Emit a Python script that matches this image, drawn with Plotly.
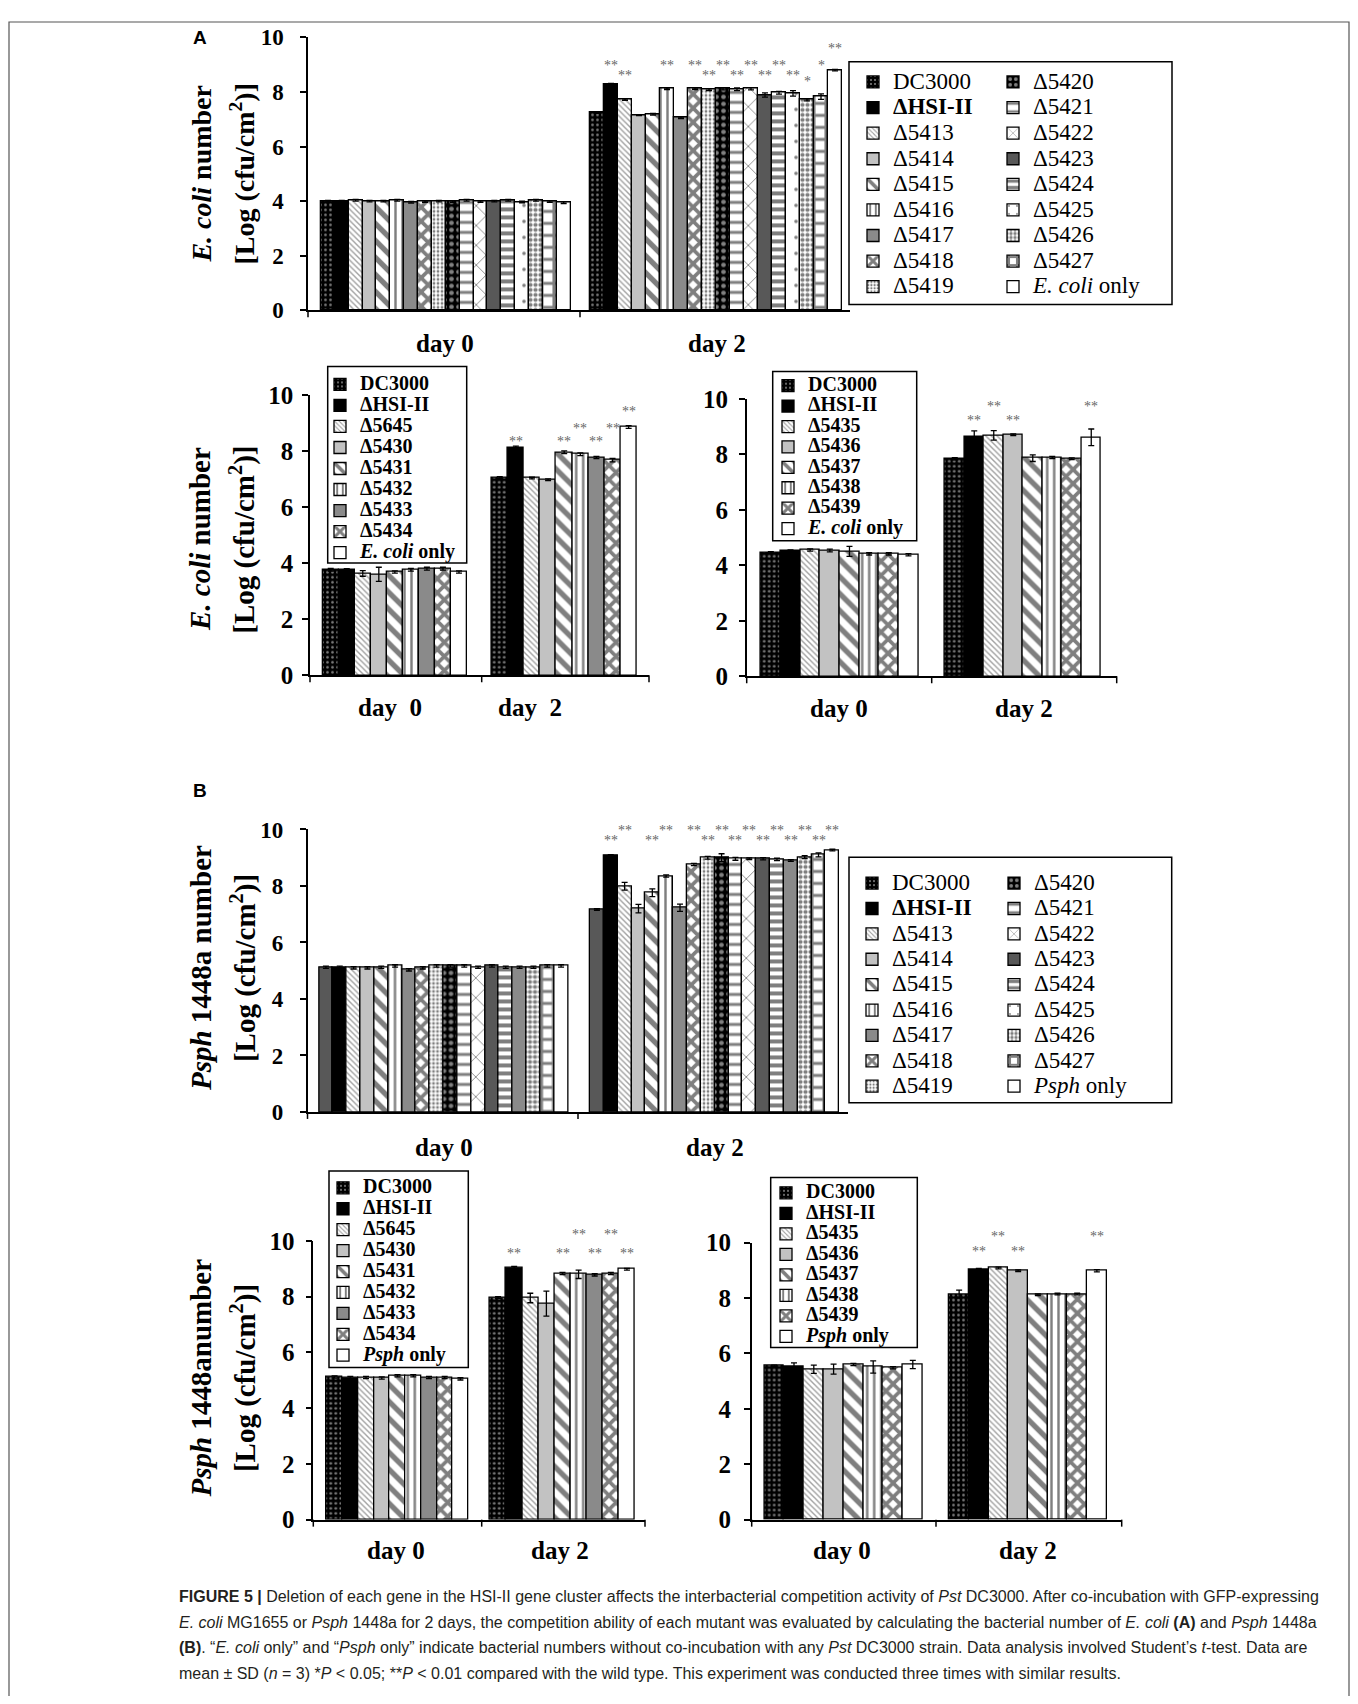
import plotly.graph_objects as go

# The page is shown with the browser's default 8 px body margin, so the figure is
# drawn 16 px smaller; layout positions below are given in window pixels.
WIN_W, WIN_H = 1358, 1704
OFF = 8
W, H = WIN_W - 2 * OFF, WIN_H - 2 * OFF
# measured vertical calibration of the photographed page (rendered = A + B * design)
CAL_A, CAL_B = 11.4, 0.9847

# ---------------- data ----------------
days = ["day 0", "day 2"]

strains_a_top = ["DC3000", "ΔHSI-II", "Δ5413", "Δ5414", "Δ5415", "Δ5416", "Δ5417", "Δ5418", "Δ5419",
                 "Δ5420", "Δ5421", "Δ5422", "Δ5423", "Δ5424", "Δ5425", "Δ5426", "Δ5427", "E. coli only"]
strains_b_top = ["DC3000", "ΔHSI-II", "Δ5413", "Δ5414", "Δ5415", "Δ5416", "Δ5417", "Δ5418", "Δ5419",
                 "Δ5420", "Δ5421", "Δ5422", "Δ5423", "Δ5424", "Δ5425", "Δ5426", "Δ5427", "Psph only"]
strains_a_left = ["DC3000", "ΔHSI-II", "Δ5645", "Δ5430", "Δ5431", "Δ5432", "Δ5433", "Δ5434", "E. coli only"]
strains_a_right = ["DC3000", "ΔHSI-II", "Δ5435", "Δ5436", "Δ5437", "Δ5438", "Δ5439", "E. coli only"]
strains_b_left = ["DC3000", "ΔHSI-II", "Δ5645", "Δ5430", "Δ5431", "Δ5432", "Δ5433", "Δ5434", "Psph only"]
strains_b_right = ["DC3000", "ΔHSI-II", "Δ5435", "Δ5436", "Δ5437", "Δ5438", "Δ5439", "Psph only"]

# Panel A (E. coli), top
a1_day0 = [4.0, 4.0, 4.03, 4.0, 4.0, 4.03, 3.96, 3.98, 4.0, 3.98, 4.03, 3.98, 4.0, 4.03, 3.97, 4.03, 3.98, 3.94]
a1_sd0 = [0.03] * 18
a1_day2 = [7.25, 8.28, 7.72, 7.15, 7.18, 8.12, 7.05, 8.12, 8.08, 8.12, 8.1, 8.12, 7.89, 7.97, 7.95, 7.71, 7.83, 8.8]
a1_sd2 = [0.03, 0.03, 0.03, 0.02, 0.03, 0.03, 0.03, 0.03, 0.03, 0.04, 0.05, 0.04, 0.08, 0.05, 0.1, 0.04, 0.1, 0.03]
a1_stars = ["", "**", "**", "", "", "**", "", "**", "**", "**", "**", "**", "**", "**", "**", "*", "*", "**"]
a1_star_rows = ["", "H", "L", "", "", "H", "", "H", "L", "H", "L", "H", "L", "H", "L", "S", "H", "T"]

# Panel A, bottom left
a2_day0 = [3.76, 3.76, 3.63, 3.6, 3.68, 3.76, 3.8, 3.8, 3.68]
a2_sd0 = [0.05, 0.04, 0.1, 0.25, 0.04, 0.05, 0.05, 0.05, 0.04]
a2_day2 = [7.05, 8.12, 7.03, 6.97, 7.95, 7.88, 7.76, 7.67, 8.85]
a2_sd2 = [0.03, 0.05, 0.03, 0.03, 0.05, 0.05, 0.04, 0.06, 0.05]
a2_stars = ["", "**", "", "", "**", "**", "**", "**", "**"]
a2_star_rows = ["", "L", "", "", "L", "H", "L", "H", "T"]

# Panel A, bottom right
a3_day0 = [4.46, 4.52, 4.55, 4.53, 4.5, 4.41, 4.41, 4.38]
a3_sd0 = [0.03, 0.03, 0.04, 0.05, 0.18, 0.04, 0.04, 0.04]
a3_day2 = [7.84, 8.64, 8.68, 8.7, 7.86, 7.88, 7.84, 8.61]
a3_sd2 = [0.04, 0.2, 0.17, 0.03, 0.12, 0.04, 0.03, 0.3]
a3_stars = ["", "**", "**", "**", "", "", "", "**"]
a3_star_rows = ["", "L", "H", "L", "", "", "", "H"]

# Panel B (Psph 1448a), top
b1_day0 = [5.12, 5.12, 5.1, 5.1, 5.12, 5.17, 5.03, 5.1, 5.17, 5.17, 5.17, 5.12, 5.17, 5.12, 5.12, 5.12, 5.17, 5.17]
b1_sd0 = [0.04] * 18
b1_day2 = [7.17, 9.08, 7.99, 7.2, 7.76, 8.35, 7.23, 8.76, 9.0, 9.0, 8.96, 8.96, 8.96, 8.94, 8.9, 9.02, 9.1, 9.27]
b1_sd2 = [0.03, 0.03, 0.14, 0.15, 0.14, 0.04, 0.13, 0.04, 0.05, 0.14, 0.05, 0.03, 0.04, 0.04, 0.03, 0.05, 0.07, 0.03]
b1_stars = ["", "**", "**", "", "**", "**", "", "**", "**", "**", "**", "**", "**", "**", "**", "**", "**", "**"]
b1_star_rows = ["", "L", "H", "", "L", "H", "", "H", "L", "H", "L", "H", "L", "H", "L", "H", "L", "H"]

# Panel B, bottom left
b2_day0 = [5.12, 5.1, 5.1, 5.08, 5.16, 5.16, 5.1, 5.1, 5.05]
b2_sd0 = [0.04] * 9
b2_day2 = [7.97, 9.04, 7.95, 7.75, 8.83, 8.8, 8.78, 8.83, 8.98]
b2_sd2 = [0.03, 0.04, 0.17, 0.45, 0.04, 0.15, 0.04, 0.04, 0.03]
b2_stars = ["", "**", "", "", "**", "**", "**", "**", "**"]
b2_star_rows = ["", "L", "", "", "L", "H", "L", "H", "L"]

# Panel B, bottom right
b3_day0 = [5.55, 5.51, 5.43, 5.43, 5.6, 5.51, 5.48, 5.6]
b3_sd0 = [0.03, 0.15, 0.15, 0.18, 0.04, 0.22, 0.04, 0.15]
b3_day2 = [8.14, 9.04, 9.08, 8.98, 8.12, 8.14, 8.14, 8.98]
b3_sd2 = [0.14, 0.03, 0.03, 0.03, 0.03, 0.03, 0.03, 0.04]
b3_stars = ["", "**", "**", "**", "", "", "", "**"]
b3_star_rows = ["", "L", "H", "L", "", "", "", "H"]

caption_lines = [
    "<b>FIGURE 5 |</b> Deletion of each gene in the HSI-II gene cluster affects the interbacterial competition "
    "activity of <i>Pst</i> DC3000. After co-incubation with GFP-expressing",
    "<i>E. coli</i> MG1655 or <i>Psph</i> 1448a for 2 days, the competition ability of each mutant was evaluated "
    "by calculating the bacterial number of <i>E. coli</i> <b>(A)</b> and <i>Psph</i> 1448a",
    "<b>(B)</b>. “<i>E. coli</i> only” and “<i>Psph</i> only” indicate bacterial numbers without co-incubation "
    "with any <i>Pst</i> DC3000 strain. Data analysis involved Student’s <i>t</i>-test. Data are",
    "mean ± SD (<i>n</i> = 3) *<i>P</i> &lt; 0.05; **<i>P</i> &lt; 0.01 compared with the wild type. "
    "This experiment was conducted three times with similar results.",
]

# ---------------- styles ----------------
SERIF = "Liberation Serif, Times New Roman, serif"
SANS = "Liberation Sans, Arial, sans-serif"


def pat(shape, fg, bg, size, sol):
    return dict(color=bg, pattern=dict(shape=shape, fgcolor=fg, bgcolor=bg, size=size, solidity=sol))


STYLES = {
    "dots_dark": pat(".", "white", "black", 5, 0.22),
    "black": dict(color="black"),
    "fine_diag": pat("\\", "#444444", "white", 4, 0.35),
    "lgray": dict(color="#c2c2c2"),
    "wide_diag": pat("\\", "black", "white", 12, 0.45),
    "vert": pat("|", "black", "white", 7, 0.35),
    "mgray": dict(color="#8a8a8a"),
    "diamond": pat("x", "black", "white", 10, 0.6),
    "fine_dots": pat(".", "black", "white", 4, 0.4),
    "dots_big_dark": pat(".", "white", "black", 7, 0.35),
    "hstripe": pat("-", "black", "white", 10, 0.3),
    "xhatch": pat("x", "black", "white", 14, 0.12),
    "dgray": dict(color="#585858"),
    "hstripe_thick": pat("-", "black", "white", 8, 0.5),
    "sparse_dot": pat(".", "black", "white", 16, 0.04),
    "checker_small": pat(".", "black", "white", 5, 0.55),
    "checker_big": pat("+", "black", "white", 12, 0.45),
    "white": dict(color="white"),
}
style_top = ["dots_dark", "black", "fine_diag", "lgray", "wide_diag", "vert", "mgray", "diamond", "fine_dots",
             "dots_big_dark", "hstripe", "xhatch", "dgray", "hstripe_thick", "sparse_dot", "checker_small",
             "checker_big", "white"]
style_left = ["dots_dark", "black", "fine_diag", "lgray", "wide_diag", "vert", "mgray", "diamond", "white"]
style_right = ["dots_dark", "black", "fine_diag", "lgray", "wide_diag", "vert", "diamond", "white"]

PANELS = [
    dict(strains=strains_a_top, day0=a1_day0, sd0=a1_sd0, day2=a1_day2, sd2=a1_sd2,
         stars=a1_stars, rows=a1_star_rows, levels=dict(H=9.07, L=8.71, S=8.5, T=9.72),
         styles=style_top, override={},
         ylo=308.7, yhi=35.7, dom0=(308, 580), bars0=(321, 570.6), dom2=(580, 850), bars2=(590, 842),
         right_tick=False, tickfs=23, standoff=12,
         labels=[(445, 341.7), (716.6, 341.7)], labfs=25, dbl=False,
         ytitle=["<i>E. coli</i> number", "[Log (cfu/cm<sup>2</sup>)]"], ytx=[202, 243], yty=172, ytfs=28,
         legcols=[(0, 9, 853), (9, 18, 993)], legfirst=80, legsp=25.2, legtext=23, legbold=False,
         box=(849, 60, 1172, 303)),
    dict(strains=strains_a_left, day0=a2_day0, sd0=a2_sd0, day2=a2_day2, sd2=a2_sd2,
         stars=a2_stars, rows=a2_star_rows, levels=dict(L=8.43, H=8.9, T=9.52),
         styles=style_left, override={},
         ylo=674, yhi=393.3, dom0=(310, 481.7), bars0=(322.7, 467), dom2=(481.7, 649), bars2=(491.7, 636.7),
         right_tick=True, tickfs=25, standoff=4,
         labels=[(390, 706), (530, 706)], labfs=25, dbl=True,
         ytitle=["<i>E. coli</i> number", "[Log (cfu/cm<sup>2</sup>)]"], ytx=[200.7, 242.3], yty=538, ytfs=29,
         legcols=[(0, 9, 320)], legfirst=382.7, legsp=20.7, legtext=20, legbold=True,
         box=(327.7, 365, 466.7, 561.7)),
    dict(strains=strains_a_right, day0=a3_day0, sd0=a3_sd0, day2=a3_day2, sd2=a3_sd2,
         stars=a3_stars, rows=a3_star_rows, levels=dict(L=9.33, H=9.82),
         styles=style_right, override={},
         ylo=675, yhi=397.3, dom0=(746.7, 931.7), bars0=(761, 918.3), dom2=(931.7, 1116.7), bars2=(945, 1101),
         right_tick=True, tickfs=25, standoff=6,
         labels=[(839, 707), (1024, 707)], labfs=25, dbl=False,
         ytitle=None,
         legcols=[(0, 8, 768)], legfirst=384, legsp=20.1, legtext=20, legbold=True,
         box=(772.7, 370, 916.7, 539.3)),
    dict(strains=strains_b_top, day0=b1_day0, sd0=b1_sd0, day2=b1_day2, sd2=b1_sd2,
         stars=b1_stars, rows=b1_star_rows, levels=dict(H=10.06, L=9.72),
         styles=style_top, override={0: "dgray", 14: "mgray"},
         ylo=1111, yhi=828.3, dom0=(307.5, 578), bars0=(319, 568), dom2=(578, 848), bars2=(590, 839.3),
         right_tick=False, tickfs=23, standoff=12,
         labels=[(444, 1146.7), (715, 1146.7)], labfs=25, dbl=False,
         ytitle=["<i>Psph</i> 1448a number", "[Log (cfu/cm<sup>2</sup>)]"], ytx=[201, 243], yty=967, ytfs=29,
         legcols=[(0, 9, 852), (9, 18, 994)], legfirst=881.7, legsp=25.0, legtext=23, legbold=False,
         box=(849, 856, 1171.7, 1101.7)),
    dict(strains=strains_b_left, day0=b2_day0, sd0=b2_sd0, day2=b2_day2, sd2=b2_sd2,
         stars=b2_stars, rows=b2_star_rows, levels=dict(L=9.64, H=10.33),
         styles=style_left, override={},
         ylo=1519, yhi=1240, dom0=(313.3, 481.7), bars0=(326.7, 468.3), dom2=(481.7, 645), bars2=(490, 635),
         right_tick=True, tickfs=25, standoff=6,
         labels=[(396, 1550), (560, 1550)], labfs=25, dbl=False,
         ytitle=["<i>Psph</i> 1448anumber", "[Log (cfu/cm<sup>2</sup>)]"], ytx=[200.8, 243.3], yty=1377, ytfs=29,
         legcols=[(0, 9, 323)], legfirst=1186.7, legsp=20.6, legtext=20, legbold=True,
         box=(329, 1170, 468.3, 1366.7)),
    dict(strains=strains_b_right, day0=b3_day0, sd0=b3_sd0, day2=b3_day2, sd2=b3_sd2,
         stars=b3_stars, rows=b3_star_rows, levels=dict(L=9.8, H=10.33),
         styles=style_right, override={},
         ylo=1519, yhi=1241.7, dom0=(751.7, 936), bars0=(764.3, 922.7), dom2=(936, 1121.7), bars2=(949.3, 1106.7),
         right_tick=True, tickfs=25, standoff=8,
         labels=[(841.7, 1550), (1027.5, 1550)], labfs=25, dbl=False,
         ytitle=None,
         legcols=[(0, 8, 766)], legfirst=1191.7, legsp=20.2, legtext=20, legbold=True,
         box=(770.7, 1176.7, 917.3, 1346.7)),
]


def PX(p):
    return (p - OFF) / W


def design_y(p):
    return (p - CAL_A) / CAL_B


def PYd(q):
    return 1 - (q - OFF) / H


def PY(p):
    return PYd(design_y(p))


def cat_range(dom, bars, n):
    unit = (bars[1] - bars[0]) / n
    return [-0.5 - (bars[0] - dom[0]) / unit, n - 0.5 + (dom[1] - bars[1]) / unit]


def axkey(prefix, n):
    return prefix + ("" if n == 1 else str(n))


def axid(letter, n):
    return letter + ("" if n == 1 else str(n))


def legend_label(name, size, bold_hsi):
    if name.endswith(" only"):
        txt = "<i>" + name[:-5] + "</i> only"
    elif name == "ΔHSI-II" and bold_hsi:
        txt = "<b>ΔHSI-II</b>"
    else:
        txt = name
    return f"<span style='font-size:{size}px'>{txt}</span>"


def marker_for(key):
    m = dict(STYLES[key])
    m["line"] = dict(color="black", width=1.3)
    return m


fig = go.Figure()
layout = dict(width=W, height=H, margin=dict(l=0, r=0, t=0, b=0), paper_bgcolor="white",
              plot_bgcolor="rgba(0,0,0,0)", barmode="overlay", bargap=0, showlegend=True)
annotations = []
shapes = []
legend_n = 0

for p, P in enumerate(PANELS):
    yk = p + 1
    xk0, xk2 = 2 * p + 1, 2 * p + 2
    n = len(P["strains"])
    ydom = [PY(P["ylo"]), PY(P["yhi"])]
    layout[axkey("yaxis", yk)] = dict(
        domain=ydom, range=[0, 10], anchor=axid("x", xk0), tickvals=[0, 2, 4, 6, 8, 10],
        showline=True, linecolor="black", linewidth=1.5, ticks="outside", ticklen=6, tickwidth=1.5,
        tickcolor="black", showgrid=False, zeroline=False, ticklabelstandoff=P["standoff"],
        tickfont=dict(family=SERIF, size=P["tickfs"], color="black", weight="bold"))
    for xk, dom, bars in ((xk0, P["dom0"], P["bars0"]), (xk2, P["dom2"], P["bars2"])):
        layout[axkey("xaxis", xk)] = dict(
            domain=[PX(dom[0]), PX(dom[1])], anchor=axid("y", yk), type="category",
            categoryorder="array", categoryarray=P["strains"], range=cat_range(dom, bars, n),
            showline=True, linecolor="black", linewidth=1.5, ticks="", showticklabels=False,
            showgrid=False, zeroline=False)

    # bars
    for i, s in enumerate(P["strains"]):
        key = P["override"].get(i, P["styles"][i])
        for xk, vals, sds in ((xk0, P["day0"], P["sd0"]), (xk2, P["day2"], P["sd2"])):
            fig.add_trace(go.Bar(
                x=[s], y=[vals[i]], width=1, xaxis=axid("x", xk), yaxis=axid("y", yk),
                marker=marker_for(key), showlegend=False, hoverinfo="skip",
                error_y=dict(type="data", array=[sds[i]], visible=True, color="black", thickness=1.3, width=3)))

    # legends (row spacing in design pixels)
    spd = P["legsp"] / CAL_B
    fs = (spd - 3) / 1.3
    top_q = design_y(P["legfirst"]) - 5 - spd / 2
    for (a, b, lx) in P["legcols"]:
        legend_n += 1
        lname = axkey("legend", legend_n)
        layout[lname] = dict(
            x=PX(lx), y=PYd(top_q), xanchor="left", yanchor="top", bgcolor="rgba(0,0,0,0)", borderwidth=0,
            tracegroupgap=0, traceorder="normal",
            font=dict(family=SERIF, size=fs, color="black", weight="bold" if P["legbold"] else "normal"))
        for i in range(a, b):
            s = P["strains"][i]
            fig.add_trace(go.Bar(
                x=[None], y=[None], xaxis=axid("x", xk0), yaxis=axid("y", yk),
                marker=marker_for(P["styles"][i]), name=legend_label(s, P["legtext"], not P["legbold"]),
                legend=lname, showlegend=True, hoverinfo="skip"))
    bx = P["box"]
    shapes.append(dict(type="rect", xref="paper", yref="paper", x0=PX(bx[0]), x1=PX(bx[2]),
                       y0=PY(bx[3]), y1=PY(bx[1]), line=dict(color="black", width=1.5)))

    # category boundary ticks
    tick_x = [P["dom0"][0], P["dom0"][1]] + ([P["dom2"][1]] if P["right_tick"] else [])
    for tx in tick_x:
        shapes.append(dict(type="line", xref="paper", yref="paper", x0=PX(tx), x1=PX(tx),
                           y0=PY(P["ylo"]), y1=PY(P["ylo"] + 7), line=dict(color="black", width=1.5)))

    # stars (x on the day-2 category axis, y mapped through the panel's 0-10 scale)
    unit_px = (P["ylo"] - P["yhi"]) / 10.0
    for i, s in enumerate(P["strains"]):
        if P["stars"][i]:
            lvl = P["levels"][P["rows"][i]]
            annotations.append(dict(
                xref=axid("x", xk2), yref="paper", x=s, y=PY(P["ylo"] - lvl * unit_px),
                text=P["stars"][i], showarrow=False, yanchor="middle", yshift=-3,
                font=dict(family=SERIF, size=14, color="#666666")))

    # day labels
    for (lx, ly), d in zip(P["labels"], days):
        txt = d.replace(" ", "\u00a0 ") if P["dbl"] else d
        annotations.append(dict(xref="paper", yref="paper", x=PX(lx), y=PY(ly), text=txt, showarrow=False,
                                xanchor="center", yanchor="middle",
                                font=dict(family=SERIF, size=P["labfs"], color="black", weight="bold")))

    # y titles
    if P["ytitle"]:
        for t, tx in zip(P["ytitle"], P["ytx"]):
            annotations.append(dict(xref="paper", yref="paper", x=PX(tx), y=PY(P["yty"]), text=t,
                                    showarrow=False, textangle=-90, xanchor="center", yanchor="middle",
                                    font=dict(family=SERIF, size=P["ytfs"], color="black", weight="bold")))

# panel letters
for letter, (lx, ly) in (("A", (200, 36)), ("B", (200, 789))):
    annotations.append(dict(xref="paper", yref="paper", x=PX(lx), y=PY(ly), text=letter, showarrow=False,
                            xanchor="center", yanchor="middle",
                            font=dict(family=SANS, size=19, color="black", weight="bold")))

# caption
for k, line in enumerate(caption_lines):
    annotations.append(dict(xref="paper", yref="paper", x=PX(177), y=PY(1596 + 25.7 * k), text=line,
                            showarrow=False, xanchor="left", yanchor="middle", align="left",
                            font=dict(family=SANS, size=16, color="#231f20")))

# outer frame (top edge kept just inside the drawing area)
shapes.append(dict(type="rect", xref="paper", yref="paper", x0=PX(9), x1=PX(1349),
                   y0=PY(1712), y1=min(PY(9), 0.9994),
                   line=dict(color="#555555", width=1.2)))

layout["annotations"] = annotations
layout["shapes"] = shapes
fig.update_layout(**layout)

fig.write_html("out.html", config={"displayModeBar": False})
